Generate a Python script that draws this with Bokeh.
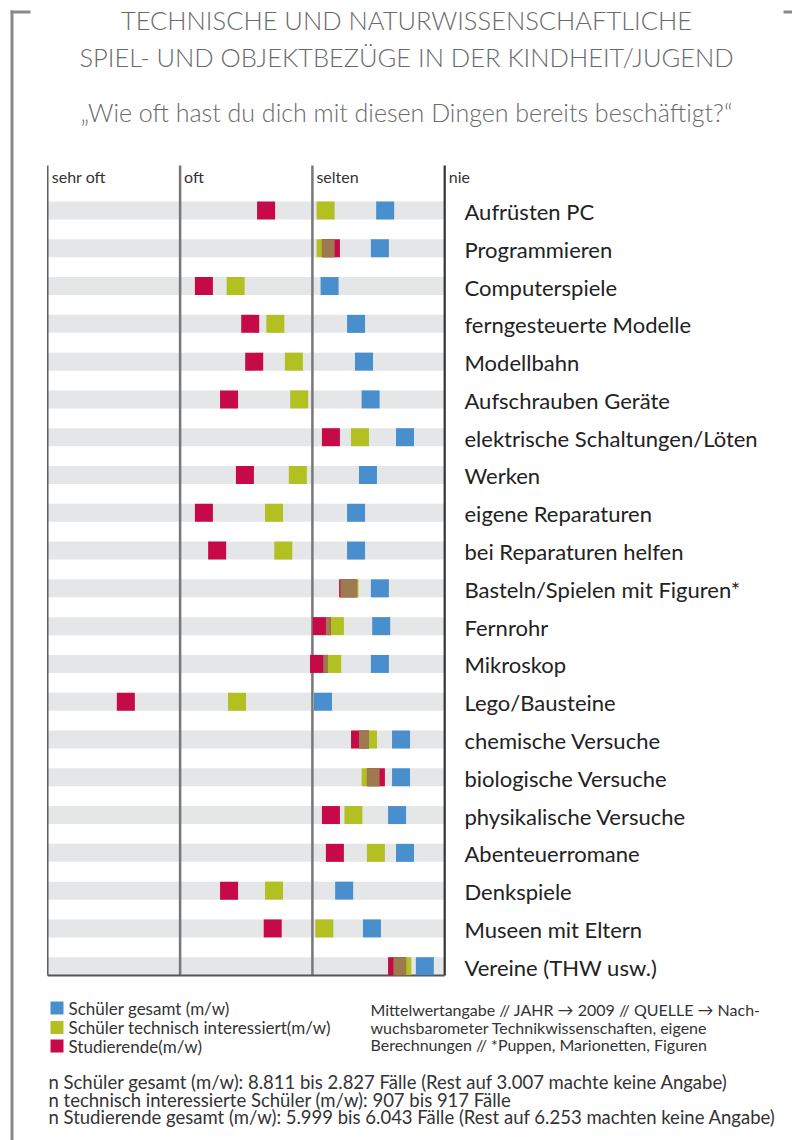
from bokeh.plotting import figure
from bokeh.models import Range1d
from bokeh.embed import file_html
from bokeh.resources import INLINE
from bokeh.core.properties import value

# ---------------- data ----------------
categories = ["Aufrüsten PC", "Programmieren", "Computerspiele", "ferngesteuerte Modelle",
              "Modellbahn", "Aufschrauben Geräte", "elektrische Schaltungen/Löten", "Werken",
              "eigene Reparaturen", "bei Reparaturen helfen", "Basteln/Spielen mit Figuren*",
              "Fernrohr", "Mikroskop", "Lego/Bausteine", "chemische Versuche",
              "biologische Versuche", "physikalische Versuche", "Abenteuerromane",
              "Denkspiele", "Museen mit Eltern", "Vereine (THW usw.)"]
schueler_gesamt = [3.55, 3.51, 3.13, 3.33, 3.39, 3.44, 3.70, 3.42, 3.33, 3.33, 3.51,
                   3.52, 3.51, 3.08, 3.67, 3.67, 3.64, 3.70, 3.24, 3.45, 3.85]
schueler_technik = [3.10, 3.10, 2.42, 2.72, 2.86, 2.90, 3.36, 2.89, 2.71, 2.78, 3.28,
                    3.17, 3.15, 2.43, 3.42, 3.44, 3.31, 3.48, 2.71, 3.09, 3.68]
studierende = [2.65, 3.14, 2.18, 2.53, 2.56, 2.37, 3.14, 2.49, 2.18, 2.28, 3.27,
               3.07, 3.05, 1.59, 3.36, 3.48, 3.14, 3.17, 2.37, 2.70, 3.64]
scale_labels = ["sehr oft", "oft", "selten", "nie"]
scale_values = [1, 2, 3, 4]
legend_labels = ["Schüler gesamt (m/w)", "Schüler technisch interessiert(m/w)", "Studierende(m/w)"]
title_lines = ["TECHNISCHE UND NATURWISSENSCHAFTLICHE",
               "SPIEL- UND OBJEKTBEZÜGE IN DER KINDHEIT/JUGEND"]
subtitle = "„Wie oft hast du dich mit diesen Dingen bereits beschäftigt?“"
note_lines = ["Mittelwertangabe // JAHR → 2009 // QUELLE → Nach-",
              "wuchsbarometer Technikwissenschaften, eigene",
              "Berechnungen  // *Puppen, Marionetten, Figuren"]
footer_lines = ["n Schüler gesamt (m/w): 8.811 bis 2.827 Fälle (Rest auf 3.007 machte keine Angabe)",
                "n technisch interessierte Schüler (m/w): 907 bis 917 Fälle",
                "n Studierende gesamt (m/w): 5.999 bis 6.043 Fälle (Rest auf 6.253 machten keine Angabe)"]

# ---------------- style / layout ----------------
BLUE, GREEN, RED, BROWN = "#4a8fcd", "#b2c022", "#c50a47", "#9e7a50"
BAND = "#e5e6e8"
W, H = 792, 1140
X1_PX = 47.3
UNIT_PX = 132.3
ROW_Y0, ROW_DY = 210.0, 37.785
SQ_PX = 18
SQ = SQ_PX / UNIT_PX
FONT = value("Lato")
TFONT = value("Lato Light")


def px2v(px):
    return 1 + (px - X1_PX) / UNIT_PX


p = figure(width=W, height=H, x_range=Range1d(px2v(0), px2v(W)), y_range=Range1d(H, 0),
           output_backend="svg", toolbar_location=None, min_border=0,
           x_axis_type=None, y_axis_type=None, outline_line_color=None)
p.background_fill_color = "white"
p.border_fill_color = "white"

n = len(categories)
row_y = [ROW_Y0 + i * ROW_DY for i in range(n)]

# bracket frame
p.segment(x0=[px2v(11.5), px2v(10), px2v(783)], x1=[px2v(11.5), px2v(30), px2v(800)],
          y0=[10, 11.5, 11.5], y1=[H + 5, 11.5, 11.5], line_color="#8a8a8a", line_width=3)

# titles
p.text(x=[px2v(406)] * 2, y=[19.5, 56], text=title_lines, text_font=TFONT,
       text_font_size="25.5px", text_color="#6a6a6a", text_align="center", text_baseline="middle")
p.text(x=[px2v(406)], y=[111], text=[subtitle], text_font=TFONT,
       text_font_size="25px", text_color="#6a6a6a", text_align="center", text_baseline="middle")

# bands
p.rect(x=[2.5] * n, y=row_y, width=3, height=18, fill_color=BAND, line_color=None)

# scale lines
TOP, BOTTOM = 165, 975
p.segment(x0=scale_values, x1=scale_values, y0=[TOP] * 4, y1=[BOTTOM] * 4,
          line_color=["#444444", "#777777", "#777777", "#333333"], line_width=[1.3, 2.5, 2.5, 2.2])
p.segment(x0=[scale_values[0]], x1=[scale_values[-1]], y0=[BOTTOM], y1=[BOTTOM],
          line_color="#555555", line_width=2)
p.text(x=scale_values, y=[176] * 4, x_offset=4, text=scale_labels, text_font=FONT,
       text_font_size="16px", text_color="#333333", text_baseline="middle")

# markers
p.rect(x=schueler_gesamt, y=row_y, width=SQ, height=SQ_PX, fill_color=BLUE, line_color=None)
p.rect(x=schueler_technik, y=row_y, width=SQ, height=SQ_PX, fill_color=GREEN, line_color=None)
p.rect(x=studierende, y=row_y, width=SQ, height=SQ_PX, fill_color=RED, line_color=None)

ol, orr, oy = [], [], []
for g, r, y in zip(schueler_technik, studierende, row_y):
    if abs(g - r) < SQ:
        ol.append(max(g, r) - SQ / 2)
        orr.append(min(g, r) + SQ / 2)
        oy.append(y)
p.quad(left=ol, right=orr, top=[y - SQ_PX / 2 for y in oy], bottom=[y + SQ_PX / 2 for y in oy],
       fill_color=BROWN, line_color=None)

# category labels
p.text(x=[px2v(464)] * n, y=[y + 1 for y in row_y], text=categories, text_font=FONT,
       text_font_size="22px", text_color="#222222", text_baseline="middle")

# legend
leg_y = [1007.5, 1027, 1045.5]
p.rect(x=[px2v(56.5)] * 3, y=leg_y, width=13 / UNIT_PX, height=13,
       fill_color=[BLUE, GREEN, RED], line_color=None)
p.text(x=[px2v(68)] * 3, y=leg_y, text=legend_labels, text_font=FONT,
       text_font_size="17px", text_color="#333333", text_baseline="middle")

# notes
p.text(x=[px2v(370)] * 3, y=[1009, 1026.5, 1044], text=note_lines, text_font=FONT,
       text_font_size="16px", text_color="#333333", text_baseline="middle")
p.text(x=[px2v(48)] * 3, y=[1081.5, 1099, 1116.5], text=footer_lines, text_font=FONT,
       text_font_size="18.5px", text_color="#333333", text_baseline="middle")

open("out.html", "w").write(file_html(p, INLINE))
